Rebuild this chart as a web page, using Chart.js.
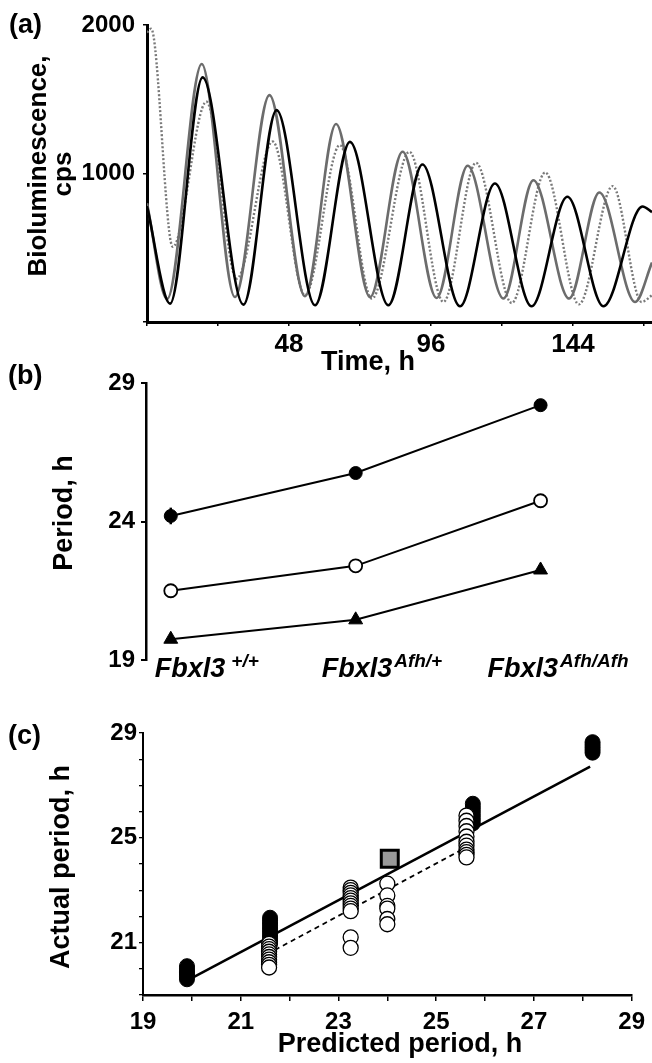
<!DOCTYPE html>
<html>
<head>
<meta charset="utf-8">
<script src="https://cdn.jsdelivr.net/npm/chart.js@4.4.1/dist/chart.umd.min.js"></script>
<style>
  body { margin: 0; background: #fff; width: 652px; height: 1063px; position: relative; overflow: hidden; }
  canvas { position: absolute; left: 0; }
  #chartA { top: 0; }
  #chartB { top: 360px; }
  #chartC { top: 690px; }
</style>
</head>
<body>
<canvas id="chartA" width="652" height="378" style="width:652px;height:378px"></canvas>
<canvas id="chartB" width="652" height="330" style="width:652px;height:330px"></canvas>
<canvas id="chartC" width="652" height="373" style="width:652px;height:373px"></canvas>
<script>
const FONT = "'Liberation Sans', Arial, Helvetica, sans-serif";

// (a) bioluminescence traces: time (h) / counts (cps)
const grayTime = [0, 6.8, 18.5, 29.7, 41.4, 53.4, 63.9, 75.4, 86.4, 97.9, 108.4, 120.5, 130.6, 142.7, 152.9, 165.0, 170.7];
const grayCps = [800, 155, 1737, 168, 1528, 173, 1333, 168, 1146, 162, 1052, 158, 955, 158, 872, 135, 400];
const blackTime = [0, 7.8, 18.8, 32.6, 43.8, 56.8, 68.6, 81.6, 93.1, 105.8, 117.6, 130.0, 142.1, 154.3, 167.5, 170.7];
const blackCps = [780, 124, 1647, 117, 1427, 113, 1213, 113, 1061, 106, 933, 106, 843, 106, 778, 740];
const dotTime = [0, 1.4, 8.7, 20.1, 30.3, 42.5, 53.4, 65.2, 76.0, 88.7, 100.2, 111.2, 123.3, 134.6, 146.0, 157.4, 167.2, 170.7];
const dotCps = [1950, 1975, 506, 1483, 292, 1215, 180, 1191, 158, 1146, 135, 1072, 128, 1007, 119, 915, 135, 180];
const timeTicks = [0, 24, 48, 72, 96, 120, 144, 168];
const timeLabels = [48, 96, 144];
const cpsTicks = [0, 1000, 2000];
const cpsLabels = [1000, 2000];

// (b) period per genotype
const genotypes = ['+/+', 'Afh/+', 'Afh/Afh'];
const periodFilled = [24.2, 25.75, 28.2];
const periodFilledErr = [0.3, 0, 0];
const periodOpen = [21.5, 22.4, 24.75];
const periodTriangle = [19.75, 20.45, 22.25];
const periodTicks = [19, 24, 29];

// (c) predicted vs actual period
const filledPred = [19.9, 21.6, 25.75, 28.2];
const filledActual = [
  [20.1, 20.0, 19.9, 19.85, 19.8, 19.7, 19.6],
  [21.95, 21.85, 21.75, 21.65, 21.55, 21.45, 21.35, 21.25, 21.15, 21.05, 20.95],
  [26.3, 26.15, 26.0, 25.85, 25.7, 25.55],
  [28.65, 28.55, 28.45, 28.35, 28.25]
];
const openPred = [21.58, 23.25, 24.0, 25.62];
const openActual = [
  [20.95, 20.85, 20.75, 20.65, 20.55, 20.45, 20.35, 20.25, 20.15, 20.05],
  [23.1, 23.0, 22.9, 22.8, 22.7, 22.6, 22.5, 22.4, 22.3, 22.2, 21.2, 20.8],
  [23.25, 22.8, 22.4, 22.3, 21.9, 21.7],
  [25.85, 25.65, 25.45, 25.25, 25.05, 24.85, 24.7, 24.55, 24.45, 24.35, 24.25]
];
const squarePred = [24.05];
const squareActual = [24.2];
const solidFitPred = [19.9, 28.15];
const solidFitActual = [19.55, 27.72];
const dashFitPred = [21.7, 25.6];
const dashFitActual = [20.72, 24.62];
const axisTicksC = [19, 20, 21, 22, 23, 24, 25, 26, 27, 28, 29];
const xLabelsC = [19, 21, 23, 25, 27, 29];
const yLabelsC = [21, 25, 29];

const toPoints = (xs, ys) => xs.map((x, i) => ({ x: x, y: ys[i] }));
const columnPoints = (cols, vals) => cols.flatMap((c, i) => vals[i].map(v => ({ x: c, y: v })));
const tickFont = size => ({ family: FONT, size: size, weight: 'bold' });

// free text: panel letters and axis titles
const textPlugin = {
  id: 'texts',
  afterDraw(chart, args, opts) {
    const ctx = chart.ctx;
    (opts.items || []).forEach(it => {
      ctx.save();
      ctx.fillStyle = '#000';
      ctx.font = `bold ${it.size}px ${FONT}`;
      ctx.textAlign = it.align || 'center';
      ctx.textBaseline = 'alphabetic';
      ctx.translate(it.x, it.y);
      if (it.rot) ctx.rotate(it.rot);
      ctx.fillText(it.text, 0, 0);
      ctx.restore();
    });
  }
};

// genotype names under panel (b), with superscript alleles
const genotypePlugin = {
  id: 'genotypes',
  afterDraw(chart, args, opts) {
    const { ctx, chartArea } = chart;
    const xs = chart.scales.x;
    genotypes.forEach((g, i) => {
      let x = xs.getPixelForValue(i) + opts.shift[i];
      const y = chartArea.bottom + opts.baseline;
      ctx.save();
      ctx.fillStyle = '#000';
      ctx.textAlign = 'left';
      ctx.textBaseline = 'alphabetic';
      ctx.font = `italic bold 27px ${FONT}`;
      ctx.fillText('Fbxl3', x, y);
      x += ctx.measureText('Fbxl3').width + opts.gap[i];
      ctx.font = `italic bold 19px ${FONT}`;
      ctx.fillText(g, x, y - 10);
      ctx.restore();
    });
  }
};

const common = {
  responsive: false,
  animation: false,
  events: [],
  plugins: { legend: { display: false }, tooltip: { enabled: false } }
};

// ---------- (a) ----------
new Chart(document.getElementById('chartA'), {
  type: 'line',
  data: {
    datasets: [
      { data: toPoints(blackTime, blackCps), borderColor: '#000', borderWidth: 2.6 },
      { data: toPoints(grayTime, grayCps), borderColor: '#6c6c6c', borderWidth: 2.6 },
      { data: toPoints(dotTime, dotCps), borderColor: '#7a7a7a', borderWidth: 2.4, borderDash: [2, 2] }
    ].map(d => Object.assign(d, { pointRadius: 0, fill: false, cubicInterpolationMode: 'monotone' }))
  },
  options: Object.assign({}, common, {
    layout: { padding: { top: 25, right: 0, left: 0, bottom: 0 } },
    scales: {
      x: {
        type: 'linear', min: 0, max: 170.7,
        afterBuildTicks: s => { s.ticks = timeTicks.map(v => ({ value: v })); },
        afterFit: s => { s.height = 378 - 322; },
        ticks: { callback: v => timeLabels.includes(v) ? String(v) : '', font: tickFont(26), color: '#000', padding: 3, maxRotation: 0, autoSkip: false },
        grid: { drawOnChartArea: false, tickLength: 4, color: '#000', lineWidth: 1.5 },
        border: { color: '#000', width: 3 }
      },
      y: {
        min: 0, max: 2000,
        afterBuildTicks: s => { s.ticks = cpsTicks.map(v => ({ value: v })); },
        afterFit: s => { s.width = 147; },
        ticks: { callback: v => cpsLabels.includes(v) ? String(v) : '', font: tickFont(24), color: '#000', padding: 8, autoSkip: false },
        grid: { drawOnChartArea: false, tickLength: 4, color: '#000', lineWidth: 1.5 },
        border: { color: '#000', width: 3 }
      }
    },
    plugins: Object.assign({}, common.plugins, {
      texts: { items: [
        { text: '(a)', x: 9, y: 33, size: 27, align: 'left' },
        { text: 'Bioluminescence,', x: 46, y: 166, size: 26, rot: -Math.PI / 2 },
        { text: 'cps', x: 71, y: 174, size: 26, rot: -Math.PI / 2 },
        { text: 'Time, h', x: 368, y: 370, size: 27 }
      ] }
    })
  }),
  plugins: [textPlugin]
});

// ---------- (b) ----------
const idx = genotypes.map((g, i) => i);
new Chart(document.getElementById('chartB'), {
  type: 'scatter',
  data: {
    datasets: [
      { data: toPoints(idx, periodFilled), pointStyle: 'circle', pointRadius: 6.5, pointBackgroundColor: '#000' },
      { data: toPoints(idx, periodOpen), pointStyle: 'circle', pointRadius: 6.5, pointBackgroundColor: '#fff', pointBorderWidth: 1.8 },
      { data: toPoints(idx, periodTriangle), pointStyle: 'triangle', pointRadius: 8, pointBackgroundColor: '#000' },
      { data: [{ x: 0, y: periodFilled[0] - periodFilledErr[0] }, { x: 0, y: periodFilled[0] + periodFilledErr[0] }], pointRadius: 0, borderWidth: 2.5 }
    ].map(d => Object.assign({ showLine: true, borderColor: '#000', borderWidth: 2, pointBorderColor: '#000', pointBorderWidth: 1 }, d))
  },
  options: Object.assign({}, common, {
    layout: { padding: { top: 23, right: 6, left: 0, bottom: 0 } },
    scales: {
      x: {
        type: 'linear', min: -0.134, max: 2.554,
        afterFit: s => { s.height = 30; },
        ticks: { display: false },
        grid: { display: false },
        border: { display: false }
      },
      y: {
        min: 19, max: 29,
        afterBuildTicks: s => { s.ticks = periodTicks.map(v => ({ value: v })); },
        afterFit: s => { s.width = 146; },
        ticks: { font: tickFont(24), color: '#000', padding: 6, autoSkip: false },
        grid: { drawOnChartArea: false, tickLength: 5, color: '#000', lineWidth: 2 },
        border: { color: '#000', width: 2.5 }
      }
    },
    plugins: Object.assign({}, common.plugins, {
      texts: { items: [
        { text: '(b)', x: 8, y: 24, size: 27, align: 'left' },
        { text: 'Period, h', x: 72, y: 153, size: 27, rot: -Math.PI / 2 }
      ] },
      genotypes: { shift: [-16, -34, -53], gap: [6, 2, 2], baseline: 17 }
    })
  }),
  plugins: [textPlugin, genotypePlugin]
});

// ---------- (c) ----------
new Chart(document.getElementById('chartC'), {
  type: 'scatter',
  data: {
    datasets: [
      { data: toPoints(squarePred, squareActual), pointStyle: 'rect', pointRadius: 12, pointBackgroundColor: '#999', pointBorderColor: '#000', pointBorderWidth: 3 },
      { data: columnPoints(openPred, openActual), pointStyle: 'circle', pointRadius: 7.5, pointBackgroundColor: '#fff', pointBorderColor: '#000', pointBorderWidth: 1.3 },
      { data: columnPoints(filledPred, filledActual), pointStyle: 'circle', pointRadius: 7.5, pointBackgroundColor: '#000', pointBorderColor: '#000', pointBorderWidth: 1 },
      { data: toPoints(solidFitPred, solidFitActual), showLine: true, pointRadius: 0, borderColor: '#000', borderWidth: 2.5 },
      { data: toPoints(dashFitPred, dashFitActual), showLine: true, pointRadius: 0, borderColor: '#000', borderWidth: 1.8, borderDash: [5, 4] }
    ]
  },
  options: Object.assign({}, common, {
    layout: { padding: { top: 43, right: 16, left: 0, bottom: 0 } },
    scales: {
      x: {
        type: 'linear', min: 19, max: 29,
        afterBuildTicks: s => { s.ticks = axisTicksC.map(v => ({ value: v })); },
        afterFit: s => { s.height = 373 - 305; },
        ticks: { callback: v => xLabelsC.includes(v) ? String(v) : '', font: tickFont(24), color: '#000', padding: 7, maxRotation: 0, autoSkip: false },
        grid: { drawOnChartArea: false, tickLength: 6, color: '#000', lineWidth: 1.5 },
        border: { color: '#000', width: 2.6 }
      },
      y: {
        min: 19, max: 29,
        afterBuildTicks: s => { s.ticks = axisTicksC.map(v => ({ value: v })); },
        afterFit: s => { s.width = 143; },
        ticks: { callback: v => yLabelsC.includes(v) ? String(v) : '', font: tickFont(24), color: '#000', padding: 2, autoSkip: false },
        grid: { drawOnChartArea: false, tickLength: 4, color: '#000', lineWidth: 1.3 },
        border: { color: '#000', width: 2 }
      }
    },
    plugins: Object.assign({}, common.plugins, {
      texts: { items: [
        { text: '(c)', x: 8, y: 54, size: 27, align: 'left' },
        { text: 'Actual period, h', x: 69, y: 177, size: 27, rot: -Math.PI / 2 },
        { text: 'Predicted period, h', x: 400, y: 362, size: 27 }
      ] }
    })
  }),
  plugins: [textPlugin]
});
</script>
</body>
</html>
